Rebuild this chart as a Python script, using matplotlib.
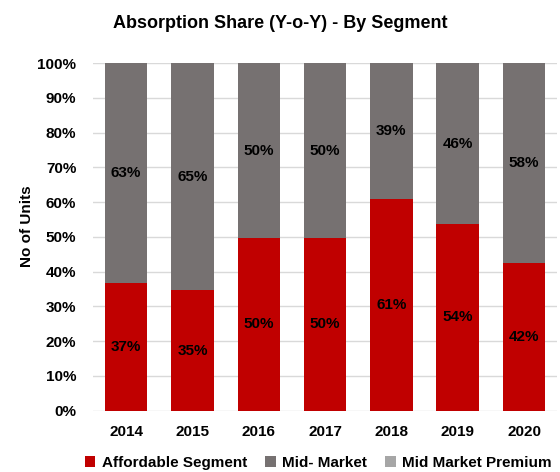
import matplotlib.pyplot as plt
import numpy as np

plt.rcParams['font.family'] = ['Liberation Sans', 'DejaVu Sans']
plt.rcParams['font.weight'] = 'bold'

years = ['2014', '2015', '2016', '2017', '2018', '2019', '2020']
affordable = [36.8, 34.6, 49.6, 49.6, 60.9, 53.7, 42.4]
mid_market = [63.2, 65.4, 50.4, 50.4, 39.1, 46.3, 57.6]
mid_premium = [0, 0, 0, 0, 0, 0, 0]

x = np.arange(len(years))
fig = plt.figure(figsize=(5.6, 4.72), dpi=100)
ax = fig.add_axes([0.166, 0.130, 0.829, 0.736])

ax.bar(x, affordable, width=0.64, color='#c00000', label='Affordable Segment', zorder=3)
ax.bar(x, mid_market, width=0.64, bottom=affordable, color='#767171', label='Mid- Market', zorder=3)
ax.bar(x, mid_premium, width=0.64, bottom=np.add(affordable, mid_market), color='#a6a6a6',
       label='Mid Market Premium', zorder=3)

for i in range(len(years)):
    ax.text(x[i], affordable[i] / 2, f'{round(affordable[i])}%', ha='center', va='center',
            fontsize=11, fontweight='bold', zorder=4)
    ax.text(x[i], affordable[i] + mid_market[i] / 2, f'{round(mid_market[i])}%', ha='center',
            va='center', fontsize=11, fontweight='bold', zorder=4)

ax.set_ylim(0, 100)
ax.set_xlim(-0.5, 6.5)
ax.set_yticks(range(0, 101, 10))
ax.set_yticklabels([f'{v}%' for v in range(0, 101, 10)], fontsize=11)
ax.set_xticks(x)
ax.set_xticklabels(years, fontsize=11)
ax.tick_params(axis='y', length=0, pad=12)
ax.tick_params(axis='x', length=0, pad=10)
ax.grid(axis='y', color='#d9d9d9', linewidth=1, zorder=0)
for s in ax.spines.values():
    s.set_visible(False)
ax.set_ylabel('No of Units', fontsize=11, fontweight='bold')
ax.yaxis.set_label_coords(-0.127, 0.53)
fig.suptitle('Absorption Share (Y-o-Y) - By Segment', fontsize=13, fontweight='bold', y=0.968)

ax.legend(loc='upper center', bbox_to_anchor=(0.485, -0.09), ncol=3, frameon=False,
          fontsize=11, handlelength=0.7, handleheight=0.7, columnspacing=1.2, handletextpad=0.4)

fig.savefig('out.png', dpi=100)
